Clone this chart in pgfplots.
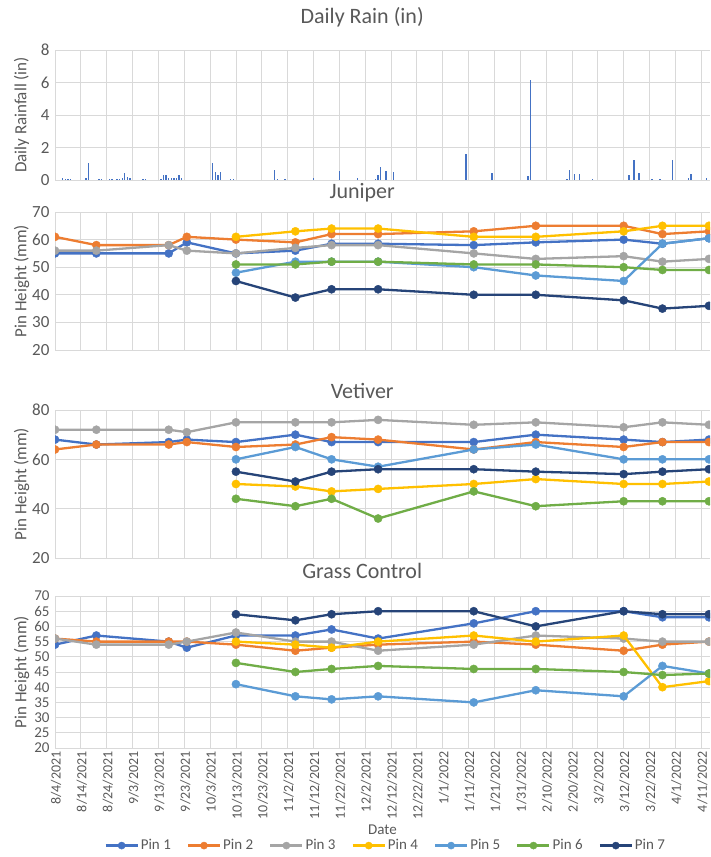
\documentclass[border=0pt]{standalone}
\usepackage{fontspec}
\setmainfont{Carlito}
\usepackage{pgfplots}
\pgfplotsset{compat=1.18}
\definecolor{cA}{HTML}{4472C4}
\definecolor{cB}{HTML}{ED7D31}
\definecolor{cC}{HTML}{A5A5A5}
\definecolor{cD}{HTML}{FFC000}
\definecolor{cE}{HTML}{5B9BD5}
\definecolor{cF}{HTML}{70AD47}
\definecolor{cG}{HTML}{264478}
\definecolor{txt}{HTML}{595959}
\definecolor{gridc}{HTML}{D9D9D9}
\pgfplotsset{
  panel/.style={
    scale only axis, width=655pt, xmin=0, xmax=253.4,
    xtick={0,10,...,250},
    axis x line*=bottom, axis y line*=left, axis line style={draw=none},
    major tick length=0pt,
    xmajorgrids, ymajorgrids, grid style={gridc, line width=0.8pt},
    clip marker paths=true,
    /pgf/number format/assume math mode=true,
    tick label style={text=txt},
    yticklabel style={font=\fontsize{17}{17}\selectfont, xshift=-2pt},
    xticklabel style={font=\fontsize{14}{14}\selectfont},
    ylabel style={text=txt, font=\fontsize{17}{17}\selectfont, at={(axis description cs:-0.051,0.5)}, anchor=center},
    title style={text=txt, font=\fontsize{22}{22}\selectfont, anchor=base},
  },
  pin/.style={color=#1, mark=*, line width=2.3pt, mark size=4.1pt, mark options={solid, fill=#1, draw=#1, line width=0.4pt}},
}
\begin{document}
\begin{tikzpicture}[x=1pt,y=1pt]
\useasboundingbox (0,0) rectangle (710,857);
% Rain
\begin{axis}[panel, at={(55pt,677pt)}, anchor=south west, height=130pt,
  ymin=0, ymax=8, ytick={0,2,4,6,8}, xticklabels={},
  ylabel={Daily Rainfall (in)},
  title={Daily Rain (in)}, title style={at={(axis description cs:0.469,1.154)}}]
\addplot[ycomb, color=cA, line width=1.4pt, mark=none] coordinates {
(3,0.1) (4,0.08) (5,0.06) (6,0.05) (12,0.12) (13,1.06) (17,0.05) (18,0.04)
(21,0.05) (22,0.04) (24,0.05) (25,0.05) (26,0.1) (27,0.42) (28,0.2) (29,0.1)
(34,0.05) (35,0.05) (41,0.05) (42,0.3) (43,0.3) (44,0.1) (45,0.1) (46,0.15)
(47,0.1) (48,0.3) (49,0.15) (61,1.06) (62,0.5) (63,0.3) (64,0.48) (68,0.05)
(69,0.05) (85,0.62) (86,0.05) (89,0.05) (100,0.1) (110,0.56) (117,0.15)
(124,0.05) (125,0.33) (126,0.79) (128,0.54) (131,0.48) (159,1.6) (169,0.41)
(183,0.25) (184,6.13) (198,0.05) (199,0.62) (201,0.35) (203,0.35) (208,0.05)
(222,0.33) (224,1.2) (226,0.41) (231,0.04) (234,0.04) (239,1.26) (245,0.1)
(246,0.35) (252,0.1)};
\end{axis}
% Juniper
\begin{axis}[panel, at={(55pt,507pt)}, anchor=south west, height=138pt,
  ymin=20, ymax=70, ytick={20,30,...,70}, xticklabels={},
  ylabel={Pin Height (mm)},
  title={Juniper}, title style={at={(axis description cs:0.469,1.051)}}]
\addplot[pin=cA] coordinates {(0,55)(16,55)(44,55)(51,59)(70,55)(93,56)(107,58.5)(125,58.5)(162,58)(186,59)(220,60)(235,58.5)(253,60.5)};
\addplot[pin=cB] coordinates {(0,61)(16,58)(44,58)(51,61)(70,60)(93,59)(107,62)(125,62)(162,63)(186,65)(220,65)(235,62)(253,63)};
\addplot[pin=cC] coordinates {(0,56)(16,56)(44,58)(51,56)(70,55)(93,57)(107,58)(125,58)(162,55)(186,53)(220,54)(235,52)(253,53)};
\addplot[pin=cD] coordinates {(70,61)(93,63)(107,64)(125,64)(162,61)(186,61)(220,63)(235,65)(253,65)};
\addplot[pin=cE] coordinates {(70,48)(93,52)(107,52)(125,52)(162,50)(186,47)(220,45)(235,58.5)(253,60.5)};
\addplot[pin=cF] coordinates {(70,51)(93,51)(107,52)(125,52)(162,51)(186,51)(220,50)(235,49)(253,49)};
\addplot[pin=cG] coordinates {(70,45)(93,39)(107,42)(125,42)(162,40)(186,40)(220,38)(235,35)(253,36)};
\end{axis}
% Vetiver
\begin{axis}[panel, at={(55pt,299pt)}, anchor=south west, height=148pt,
  ymin=20, ymax=80, ytick={20,40,60,80}, xticklabels={},
  ylabel={Pin Height (mm)},
  title={Vetiver}, title style={at={(axis description cs:0.469,1.04)}}]
\addplot[pin=cA] coordinates {(0,68)(16,66)(44,67)(51,68)(70,67)(93,70)(107,67)(125,67)(162,67)(186,70)(220,68)(235,67)(253,68)};
\addplot[pin=cB] coordinates {(0,64)(16,66)(44,66)(51,67)(70,65)(93,66)(107,69)(125,68)(162,64)(186,67)(220,65)(235,67)(253,67)};
\addplot[pin=cC] coordinates {(0,72)(16,72)(44,72)(51,71)(70,75)(93,75)(107,75)(125,76)(162,74)(186,75)(220,73)(235,75)(253,74)};
\addplot[pin=cD] coordinates {(70,50)(93,49)(107,47)(125,48)(162,50)(186,52)(220,50)(235,50)(253,51)};
\addplot[pin=cE] coordinates {(70,60)(93,65)(107,60)(125,57)(162,64)(186,66)(220,60)(235,60)(253,60)};
\addplot[pin=cF] coordinates {(70,44)(93,41)(107,44)(125,36)(162,47)(186,41)(220,43)(235,43)(253,43)};
\addplot[pin=cG] coordinates {(70,55)(93,51)(107,55)(125,56)(162,56)(186,55)(220,54)(235,55)(253,56)};
\end{axis}
% Grass Control
\begin{axis}[panel, at={(55pt,109pt)}, anchor=south west, height=152pt,
  ymin=20, ymax=70, ytick={20,25,...,70},
  yticklabel style={font=\fontsize{15}{15}\selectfont},
  xticklabels={8/4/2021,8/14/2021,8/24/2021,9/3/2021,9/13/2021,9/23/2021,10/3/2021,10/13/2021,10/23/2021,11/2/2021,11/12/2021,11/22/2021,12/2/2021,12/12/2021,12/22/2021,1/1/2022,1/11/2022,1/21/2022,1/31/2022,2/10/2022,2/20/2022,3/2/2022,3/12/2022,3/22/2022,4/1/2022,4/11/2022},
  xticklabel style={rotate=90, anchor=east, yshift=-1pt},
  xlabel={Date}, xlabel style={text=txt, font=\fontsize{15}{15}\selectfont, at={(axis description cs:0.5,-0.54)}, anchor=center},
  ylabel={Pin Height (mm)},
  title={Grass Control}, title style={at={(axis description cs:0.469,1.079)}},
  legend columns=7,
  legend style={at={(axis description cs:0.505,-0.642)}, anchor=center, draw=none, fill=none, text=txt, font=\fontsize{15}{15}\selectfont, /tikz/every even column/.append style={column sep=14pt}},
  legend image code/.code={\draw[#1, mark repeat=2, mark phase=2, mark size=3.6pt] plot coordinates {(0pt,0pt)(16pt,0pt)(32pt,0pt)};}]
\addplot[pin=cA] coordinates {(0,54)(16,57)(44,55)(51,53)(70,57)(93,57)(107,59)(125,56)(162,61)(186,65)(220,65)(235,63)(253,63)};
\addplot[pin=cB] coordinates {(0,56)(16,55)(44,55)(51,55)(70,54)(93,52)(107,53)(125,54)(162,55)(186,54)(220,52)(235,54)(253,55)};
\addplot[pin=cC] coordinates {(0,56)(16,54)(44,54)(51,55)(70,58)(93,55)(107,55)(125,52)(162,54)(186,57)(220,56)(235,55)(253,55)};
\addplot[pin=cD] coordinates {(70,55)(93,54)(107,53)(125,55)(162,57)(186,55)(220,57)(235,40)(253,42)};
\addplot[pin=cE] coordinates {(70,41)(93,37)(107,36)(125,37)(162,35)(186,39)(220,37)(235,47)(253,44.5)};
\addplot[pin=cF] coordinates {(70,48)(93,45)(107,46)(125,47)(162,46)(186,46)(220,45)(235,44)(253,44.5)};
\addplot[pin=cG] coordinates {(70,64)(93,62)(107,64)(125,65)(162,65)(186,60)(220,65)(235,64)(253,64)};
\legend{Pin 1,Pin 2,Pin 3,Pin 4,Pin 5,Pin 6,Pin 7}
\end{axis}
\end{tikzpicture}
\end{document}
